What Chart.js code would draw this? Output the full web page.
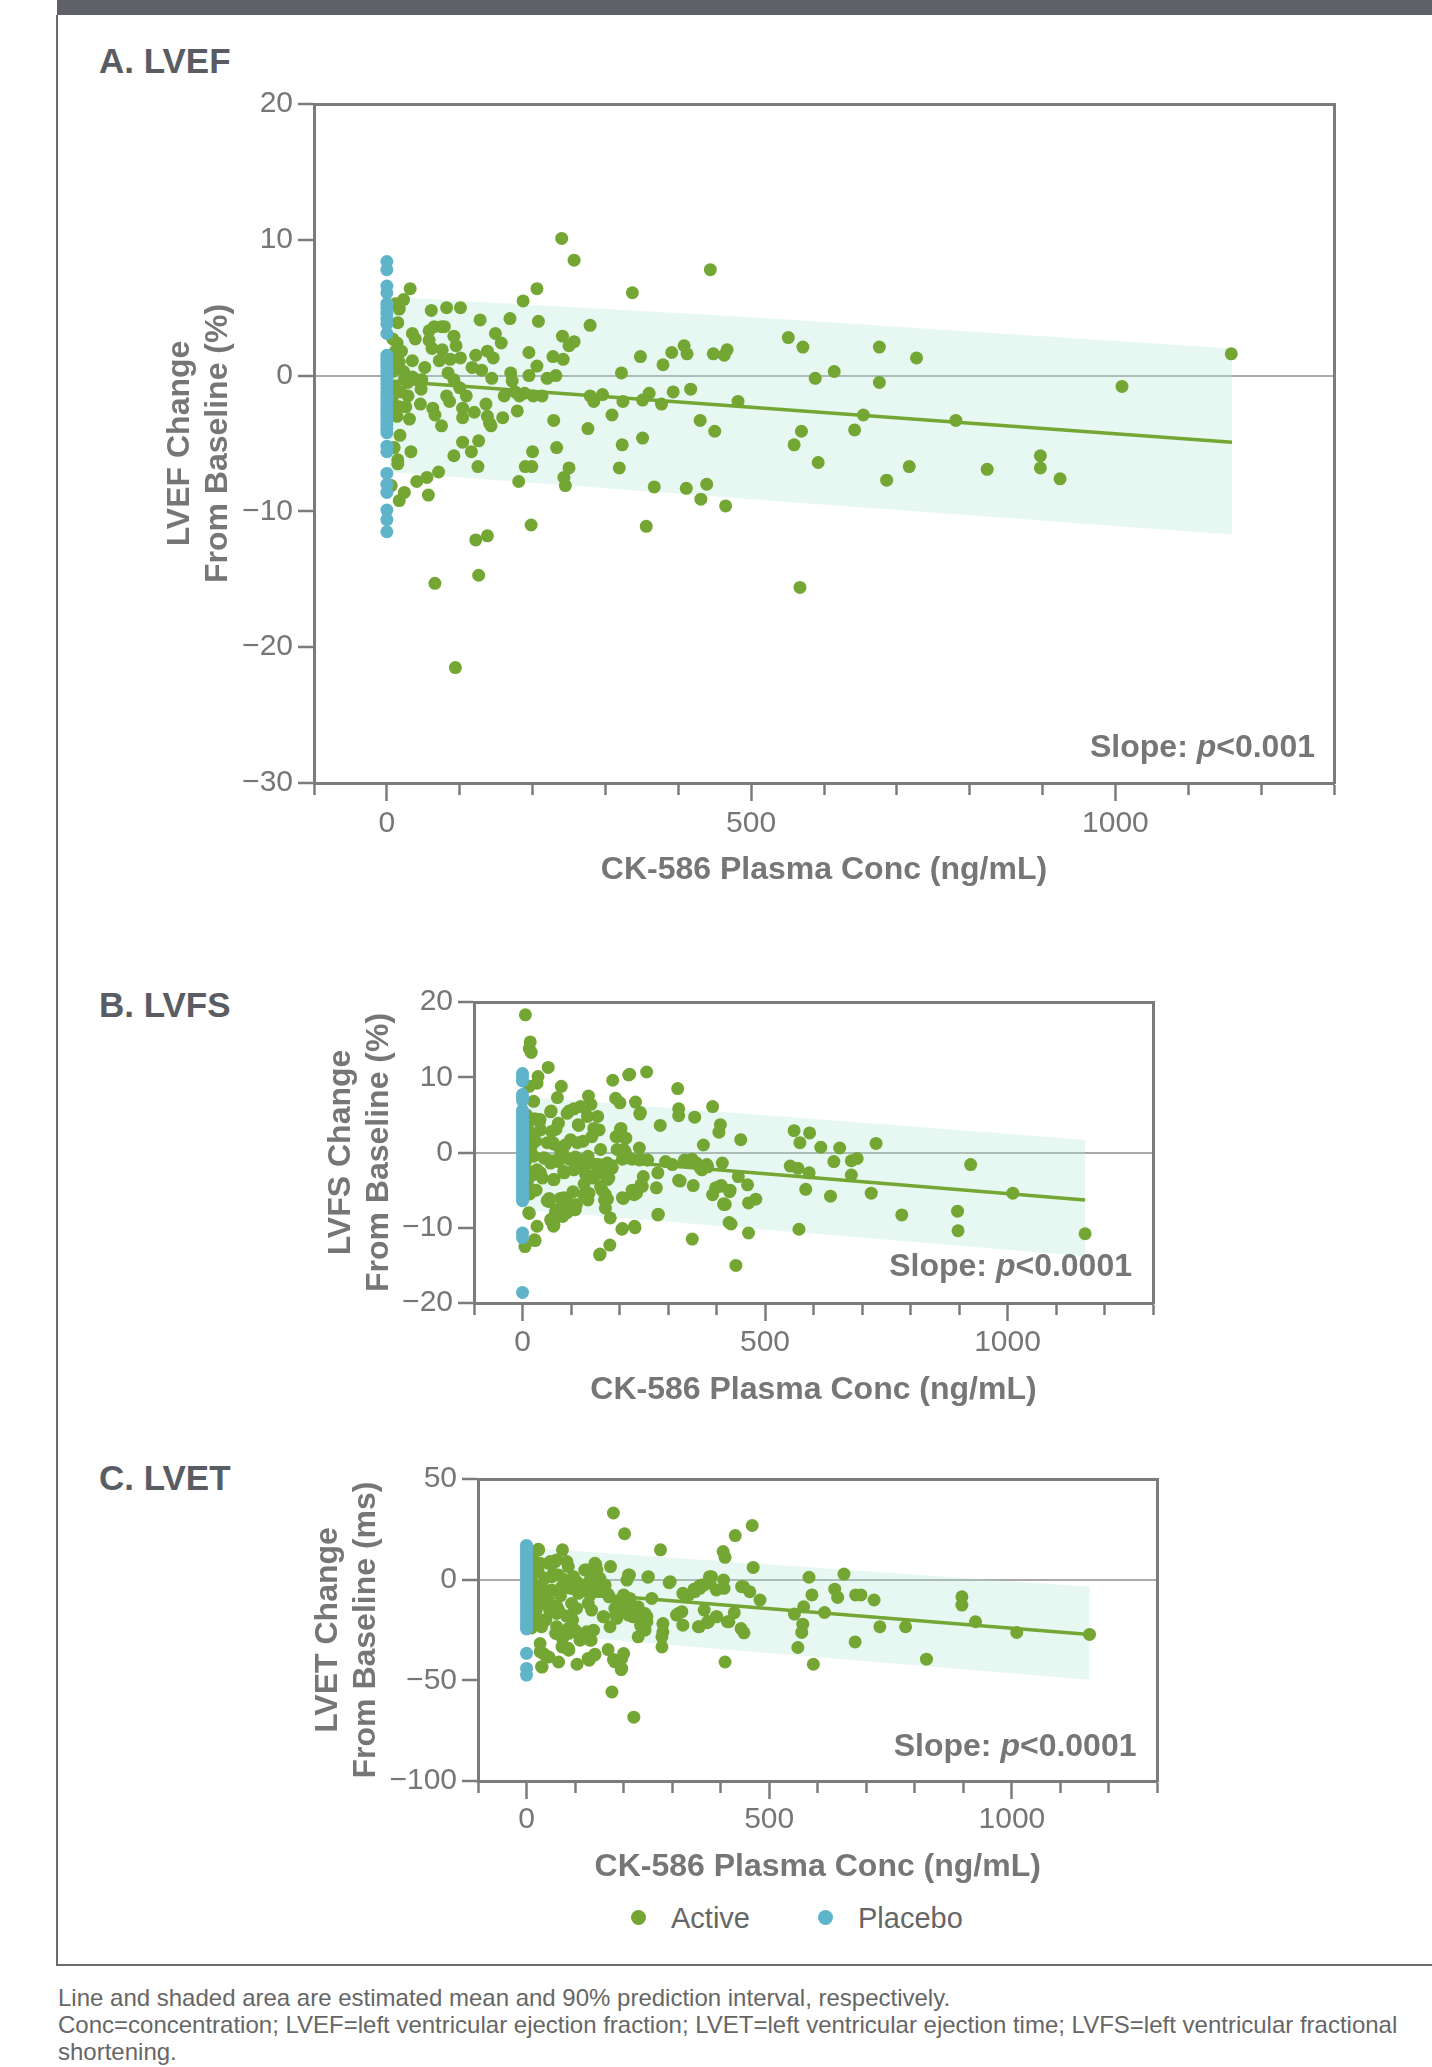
<!DOCTYPE html>
<html>
<head>
<meta charset="utf-8">
<title>CK-586 plasma concentration vs echo change from baseline</title>
<script src="https://cdn.jsdelivr.net/npm/chart.js@4.4.1/dist/chart.umd.min.js"></script>
<style>
  html, body { margin: 0; padding: 0; background: #fff; }
  body { width: 1432px; height: 2067px; position: relative; overflow: hidden;
         font-family: "Liberation Sans", Arial, sans-serif; }
  .banner { position: absolute; left: 57px; top: 0; width: 1375px; height: 15px; background: #5f6168; }
  .frame { position: absolute; left: 56px; top: 15px; width: 1376px; height: 1951px; box-sizing: border-box;
           border-left: 2px solid #6b6d73; border-bottom: 2px solid #6b6d73; }
  .panel-label { position: absolute; left: 99px; font-size: 35px; line-height: 40px; font-weight: bold; color: #595c63; }
  canvas { position: absolute; left: 0; }
  .legend-dot { position: absolute; width: 15px; height: 15px; border-radius: 50%; }
  .legend-text { position: absolute; font-size: 29px; line-height: 36px; color: #666; }
  .footnote { position: absolute; left: 58px; top: 1984px; font-size: 24px; line-height: 27px; color: #666; white-space: nowrap; }
</style>
</head>
<body>
<div class="banner"></div>
<div class="frame"></div>

<div class="panel-label" style="top:41px">A. LVEF</div>
<div class="panel-label" style="top:985px">B. LVFS</div>
<div class="panel-label" style="top:1458px">C. LVET</div>

<canvas id="lvefChart" width="1432" height="860" style="top:60px"></canvas>
<canvas id="lvfsChart" width="1432" height="470" style="top:960px"></canvas>
<canvas id="lvetChart" width="1432" height="460" style="top:1440px"></canvas>

<div class="legend-dot" style="left:631px; top:1910px; background:#74a633"></div>
<div class="legend-text" style="left:671px; top:1900px">Active</div>
<div class="legend-dot" style="left:818px; top:1910px; background:#5fb4c9"></div>
<div class="legend-text" style="left:858px; top:1900px">Placebo</div>

<div class="footnote">Line and shaded area are estimated mean and 90% prediction interval, respectively.<br>Conc=concentration; LVEF=left ventricular ejection fraction; LVET=left ventricular ejection time; LVFS=left ventricular fractional<br>shortening.</div>

<script>
// ---- shared axis values ----
const concTicks = [-100, 0, 100, 200, 300, 400, 500, 600, 700, 800, 900, 1000, 1100, 1200, 1300];
const concLabelled = [0, 500, 1000];
const lvefTicks = [-30, -20, -10, 0, 10, 20];
const lvfsTicks = [-20, -10, 0, 10, 20];
const lvetTicks = [-100, -50, 0, 50];

// ---- A. LVEF (% change) ----
const lvefActive = [
  [240,10.1],[257,8.5],[444,7.8],[32,6.4],[206,6.4],[337,6.1],[23,5.6],[17,4.9],[12,5.3],[187,5.5],
  [61,4.8],[82,5.0],[101,5.0],[128,4.1],[169,4.2],[208,4.0],[279,3.7],[15,3.9],[35,3.1],[39,2.7],
  [58,3.3],[65,3.6],[75,3.6],[79,3.6],[58,2.6],[62,2.0],[76,1.9],[92,2.9],[95,2.2],[149,3.1],
  [157,2.4],[241,2.9],[250,2.2],[257,2.5],[122,1.5],[138,1.8],[146,1.3],[195,1.7],[228,1.4],[242,1.2],
  [348,1.4],[379,0.8],[391,1.7],[412,1.6],[408,2.2],[448,1.6],[463,1.5],[467,1.9],[322,0.2],[72,1.1],
  [87,1.2],[101,1.3],[52,0.6],[35,1.1],[117,0.6],[130,0.4],[144,-0.2],[170,0.2],[172,-0.4],[195,0.0],
  [206,0.7],[220,-0.2],[232,0.0],[84,0.2],[92,-0.3],[47,-1.0],[29,-0.5],[100,-0.9],[109,-1.5],[161,-1.5],
  [176,-1.2],[182,-1.5],[189,-1.3],[201,-1.5],[213,-1.5],[279,-1.5],[284,-1.9],[296,-1.4],[324,-1.9],[351,-1.8],
  [360,-1.3],[377,-2.1],[393,-1.2],[417,-1.0],[482,-1.9],[82,-1.5],[86,-1.9],[29,-1.5],[26,-2.3],[17,-2.3],
  [10,-2.2],[46,-2.1],[63,-2.4],[66,-2.9],[104,-2.4],[104,-3.1],[120,-2.7],[136,-2.1],[138,-3.0],[141,-3.5],
  [143,-3.7],[159,-3.1],[179,-2.6],[229,-3.3],[309,-2.9],[430,-3.3],[450,-4.1],[276,-3.9],[75,-3.7],[31,-3.2],
  [18,-4.4],[351,-4.6],[104,-4.9],[126,-4.8],[116,-5.6],[200,-5.6],[233,-5.3],[323,-5.1],[10,-5.3],[15,-6.2],
  [15,-6.5],[33,-5.6],[92,-5.9],[125,-6.7],[190,-6.7],[199,-6.7],[250,-6.8],[319,-6.8],[71,-7.1],[41,-7.8],
  [55,-7.5],[181,-7.8],[243,-7.5],[245,-8.1],[367,-8.2],[411,-8.3],[439,-8.0],[24,-8.6],[17,-9.2],[57,-8.8],
  [6,-8.1],[431,-9.1],[465,-9.6],[198,-11.0],[356,-11.1],[122,-12.1],[138,-11.8],[126,-14.7],[66,-15.3],[94,-21.5],
  [567,-15.6],[551,2.8],[571,2.1],[676,2.1],[727,1.3],[1159,1.6],[588,-0.2],[614,0.3],[676,-0.5],[1009,-0.8],
  [654,-2.9],[781,-3.3],[569,-4.1],[559,-5.1],[642,-4.0],[592,-6.4],[897,-5.9],[897,-6.8],[717,-6.7],[686,-7.7],
  [824,-6.9],[924,-7.6],[9,0.9],[15,0.7],[23,0.3],[26,-0.1],[35,-0.1],[41,-0.3],[48,-0.3],[20,1.8],
  [14,2.4],[17,1.0],[8,2.7],[12,1.8],[8,0.3],[24,-0.3],[11,-0.9],[19,-1.2],[7,-1.7],[14,-3.0]
];
const lvefPlacebo = [
  8.4, 7.8, 6.6, 6.1, 5.3, 5.0, 4.6, 4.2, 3.8, 3.1, 1.5, 1.2, 0.9, 0.6, 0.3, 0.0, -0.3, -0.6, -0.9, -1.2,
  -1.5, -1.8, -2.1, -2.4, -2.7, -3.0, -3.3, -3.6, -3.9, -4.2, -5.2, -5.6, -7.2, -8.0, -8.6, -9.9, -10.6, -11.5
];
const lvefFitX = [5, 1160];
const lvefFitY = [-0.4, -4.9];
const lvefBandX = [3, 500, 1160];
const lvefBandUpper = [5.8, 4.3, 2.0];
const lvefBandLower = [-7.1, -9.1, -11.7];

// ---- B. LVFS (% change) ----
const lvfsActive = [
  [6,18.3],[16,14.7],[14,13.8],[18,13.3],[53,11.3],[32,10.1],[30,9.2],[14,8.8],[80,8.8],[186,9.6],
  [219,10.3],[256,10.7],[320,8.5],[23,6.8],[72,7.3],[136,7.5],[141,6.4],[192,7.2],[201,6.6],[233,6.7],
  [58,5.4],[92,5.2],[106,5.8],[120,6.1],[129,5.9],[242,5.1],[322,5.8],[322,4.9],[355,4.7],[392,6.1],
  [134,4.8],[155,4.8],[35,4.1],[37,3.0],[74,3.9],[69,3.1],[115,3.7],[147,3.2],[143,2.1],[203,3.2],
  [193,2.1],[284,3.6],[408,3.7],[405,2.7],[450,1.7],[373,1.0],[99,1.7],[88,1.0],[63,1.3],[212,1.9],
  [212,0.1],[241,0.6],[161,0.4],[18,0.8],[23,-0.5],[46,-0.8],[83,-0.1],[74,-1.2],[124,-1.0],[135,-0.5],
  [175,-1.4],[184,-2.1],[241,-1.0],[258,-1.0],[295,-1.2],[309,-1.6],[334,-1.0],[347,-1.0],[359,-1.4],[370,-2.3],
  [380,-1.6],[412,-1.4],[279,-2.7],[37,-2.7],[41,-3.4],[64,-3.6],[86,-2.7],[106,-2.3],[118,-1.6],[146,-3.4],
  [157,-2.7],[178,-3.4],[249,-3.2],[244,-4.3],[322,-3.7],[352,-4.4],[410,-4.4],[428,-5.0],[445,-3.2],[276,-4.7],
  [226,-5.0],[235,-5.4],[28,-5.0],[55,-6.1],[51,-6.4],[78,-6.1],[92,-6.5],[104,-5.2],[126,-5.6],[135,-6.3],
  [164,-5.0],[169,-6.3],[208,-6.1],[392,-5.6],[418,-6.9],[466,-6.7],[171,-7.4],[14,-8.1],[69,-7.6],[83,-8.5],
  [106,-7.6],[111,-6.9],[60,-9.2],[64,-9.8],[181,-8.7],[279,-8.3],[30,-9.8],[205,-10.2],[232,-10.0],[430,-9.5],
  [466,-10.7],[26,-11.7],[5,-12.5],[350,-11.5],[180,-12.3],[159,-13.6],[440,-15.0],
  [560,2.9],[592,2.6],[572,1.3],[615,0.7],[654,0.6],[729,1.2],[552,-1.8],[568,-2.1],[591,-2.7],[642,-1.2],
  [678,-1.1],[690,-0.8],[678,-3.0],[924,-1.6],[464,-4.3],[427,-5.2],[584,-4.9],[635,-5.8],[719,-5.4],[1011,-5.4],
  [415,-6.9],[481,-6.2],[782,-8.3],[897,-7.8],[898,-10.4],[570,-10.2],[1160,-10.8],[407,-4.5],[367,-2.1],[382,-1.9],
  [221,10.4],[243,5.3],[59,5.5],[36,4.4],[60,2.8],[96,5.5],[116,3.6],[158,3.0],[202,3.1],[201,2.2],
  [213,1.9],[27,1.5],[51,1.3],[65,1.1],[78,0.4],[113,1.3],[125,1.5],[195,0.4],[209,0.4],[17,0.0],
  [44,-0.7],[58,-1.4],[78,-0.5],[96,-0.9],[109,-0.6],[123,-1.2],[140,-1.4],[154,-1.6],[185,-2.0],[206,-0.9],
  [226,-0.9],[244,-0.9],[257,-1.0],[333,-1.2],[350,-0.9],[30,-2.3],[65,-3.6],[85,-2.5],[130,-2.9],[144,-3.1],
  [164,-2.7],[175,-3.6],[325,-3.8],[398,-4.7],[127,-4.2],[137,-5.4],[161,-4.5],[171,-5.6],[85,-6.0],[54,-6.5],
  [230,-5.6],[247,-4.5],[206,-6.0],[175,-6.2],[109,-7.6],[92,-8.0],[85,-7.1],[68,-8.0],[13,-8.0],[58,-8.9],
  [65,-9.6],[280,-8.2],[206,-10.1],[231,-9.8],[25,-11.6],[160,-13.5],[415,-6.8],[426,-9.3],
  [8,5.0],[10,3.5],[12,2.0],[8,-1.0],[12,-2.5],[10,-4.0],[15,-5.5],[20,-3.0],[22,2.5],[25,4.5]
];
const lvfsPlacebo = [
  10.5, 10.0, 9.5, 7.7, 7.3, 6.9, 5.6, 5.2, 4.8, 4.4, 4.0, 3.6, 3.2, 2.8, 2.4, 2.0, 1.6, 1.2, 0.8, 0.4,
  0.0, -0.4, -0.8, -1.2, -1.6, -2.0, -2.4, -2.8, -3.2, -3.6, -4.0, -4.4, -4.8, -5.2, -5.6, -6.0, -6.4,
  -10.7, -11.3, -18.6
];
const lvfsFitX = [5, 1160];
const lvfsFitY = [-0.2, -6.3];
const lvfsBandX = [3, 1160];
const lvfsBandUpper = [7.4, 1.7];
const lvfsBandLower = [-7.6, -13.8];

// ---- C. LVET (ms change) ----
const lvetActive = [
  [179,33.1],[202,22.8],[276,14.8],[405,14.0],[409,11.1],[430,21.9],[465,26.9],[25,14.8],[74,14.8],[467,6.1],
  [173,6.5],[124,4.8],[143,7.3],[49,9.0],[62,9.8],[83,9.0],[212,2.3],[207,-0.2],[251,1.5],[294,-1.5],
  [377,1.5],[406,-0.2],[322,-6.8],[334,-7.6],[345,-4.8],[356,-3.2],[365,-2.7],[391,-5.1],[443,-3.5],[460,-6.0],
  [166,-6.8],[170,-8.5],[193,-10.1],[202,-12.6],[258,-9.3],[230,-13.5],[244,-16.8],[159,-18.4],[184,-16.8],[219,-18.4],
  [313,-16.8],[322,-22.6],[366,-15.1],[391,-18.4],[374,-20.9],[356,-23.4],[417,-20.9],[442,-24.3],[448,-26.4],[63,-13.5],
  [62,-16.8],[99,-14.3],[41,-8.5],[18,-8.5],[235,-22.6],[244,-25.1],[281,-21.8],[281,-25.9],[279,-28.4],[279,-33.4],
  [230,-28.4],[60,-26.7],[74,-29.2],[87,-26.7],[101,-25.9],[115,-27.6],[110,-30.1],[124,-26.7],[133,-30.1],[138,-25.1],
  [28,-31.7],[35,-36.7],[74,-33.4],[87,-35.0],[46,-38.4],[66,-40.9],[104,-42.0],[32,-43.4],[129,-40.0],[140,-37.5],
  [168,-34.7],[179,-39.7],[189,-40.9],[200,-36.7],[195,-44.7],[409,-40.9],[176,-55.8],[221,-68.3],
  [582,1.2],[654,2.8],[379,1.2],[447,-3.5],[481,-10.1],[635,-4.7],[641,-8.8],[588,-7.6],[678,-7.6],[689,-7.6],
  [716,-10.1],[897,-8.5],[897,-12.6],[571,-13.5],[614,-16.3],[552,-17.1],[428,-16.4],[372,-21.4],[569,-22.1],[567,-26.2],
  [728,-23.4],[781,-23.4],[925,-20.9],[1010,-26.2],[1160,-27.2],[677,-30.9],[559,-33.7],[824,-39.5],[591,-42.0],
  [24,15.1],[45,8.1],[59,8.9],[86,6.5],[141,8.1],[145,4.8],[120,4.8],[210,2.3],[250,1.2],[296,-1.0],
  [381,1.5],[378,-1.8],[28,8.1],[24,4.0],[38,0.7],[52,1.5],[66,2.3],[80,-0.1],[97,1.5],[103,-1.0],
  [114,-2.6],[131,-0.1],[141,-1.8],[151,0.7],[162,-2.6],[31,-3.5],[42,-5.9],[52,-5.1],[73,-3.5],[93,-4.3],
  [107,-6.8],[124,-4.3],[131,-7.6],[145,-5.9],[155,-5.9],[169,-7.6],[200,-7.6],[203,-10.1],[213,-9.3],[323,-7.1],
  [347,-5.9],[357,-4.3],[361,-2.6],[45,-10.1],[59,-13.4],[66,-15.1],[93,-11.8],[103,-14.3],[127,-11.8],[134,-15.1],
  [182,-14.3],[189,-12.6],[196,-15.1],[210,-13.4],[237,-16.7],[248,-18.4],[158,-18.4],[172,-23.4],[186,-19.2],[210,-17.6],
  [248,-20.9],[237,-23.4],[309,-17.6],[320,-15.9],[354,-23.4],[375,-20.9],[392,-18.4],[414,-20.9],[407,-4.3],[31,-20.1],
  [31,-23.4],[62,-23.4],[66,-25.9],[86,-24.2],[100,-25.0],[114,-27.5],[124,-25.9],[117,-29.2],[131,-30.0],[73,-33.3],
  [86,-34.1],[28,-35.8],[42,-38.3],[31,-43.2],[127,-39.1],[141,-37.0],[182,-40.8],[196,-39.1],[196,-44.1],
  [18,9.0],[14,4.8],[18,-3.5],[18,-10.1],[14,-16.7],[14,-21.8],[24,-9.3],[21,-14.3],
  [10,12.0],[12,-1.0],[16,-6.0],[20,-18.0],[10,-24.0],[35,-12.0],[40,-20.0],[48,-16.0],[55,3.0],[70,-8.0],
  [82,-18.0],[95,-20.0]
];
const lvetPlacebo = [
  17.0, 15.5, 14.0, 12.5, 11.0, 9.5, 8.0, 6.5, 5.0, 3.5, 2.0, 0.5, -1.0, -2.5, -4.0, -5.5, -7.0, -8.5, -10.0,
  -11.5, -13.0, -14.5, -16.0, -17.5, -19.0, -20.5, -22.0, -23.5, -24.5, -36.6, -44.1, -47.4
];
const lvetFitX = [5, 1160];
const lvetFitY = [-4.8, -27.2];
const lvetBandX = [3, 1160];
const lvetBandUpper = [15.8, -3.5];
const lvetBandLower = [-26.5, -49.7];

// ---- styling ----
const ACTIVE_COLOR = '#74a633';
const PLACEBO_COLOR = '#5fb4c9';
const BAND_COLOR = 'rgba(175, 228, 208, 0.3)';
const AXIS_GRAY = '#7b7b7b';
const TEXT_GRAY = '#767676';
const FONT = '"Liberation Sans", Arial, sans-serif';

const toPoints = (xs, ys) => xs.map((x, i) => ({ x: x, y: ys[i] }));
const minusSign = v => (v < 0 ? '\u2212' + Math.abs(v) : String(v));

// draws the "Slope: p<..." note in the lower right of the plot area
const slopeLabel = {
  id: 'slopeLabel',
  afterDatasetsDraw(chart, args, opts) {
    const { ctx, chartArea } = chart;
    const parts = [
      ['Slope: ', `bold 32px ${FONT}`],
      ['p', `italic bold 32px ${FONT}`],
      [opts.text, `bold 32px ${FONT}`]
    ];
    ctx.save();
    ctx.fillStyle = TEXT_GRAY;
    ctx.textBaseline = 'middle';
    ctx.textAlign = 'left';
    let total = 0;
    parts.forEach(p => { ctx.font = p[1]; total += ctx.measureText(p[0]).width; });
    let x = chartArea.right - opts.right - total;
    const y = chartArea.bottom - opts.bottom;
    parts.forEach(p => {
      ctx.font = p[1];
      ctx.fillText(p[0], x, y);
      x += ctx.measureText(p[0]).width;
    });
    ctx.restore();
  }
};

/**
 * Build one panel: placebo + active scatter, mean line and prediction band
 */
function createPanel(canvasId, cfg) {
  const ctx = document.getElementById(canvasId).getContext('2d');

  new Chart(ctx, {
    type: 'scatter',
    data: {
      datasets: [
        {
          label: 'Placebo',
          data: cfg.placebo.map(y => ({ x: 0, y: y })),
          backgroundColor: PLACEBO_COLOR,
          borderColor: PLACEBO_COLOR,
          pointRadius: 6.5,
          pointBorderWidth: 0,
          order: 0
        },
        {
          label: 'Active',
          data: cfg.active.map(p => ({ x: p[0], y: p[1] })),
          backgroundColor: ACTIVE_COLOR,
          borderColor: ACTIVE_COLOR,
          pointRadius: 6.5,
          pointBorderWidth: 0,
          order: 1
        },
        {
          type: 'line',
          label: 'Estimated mean',
          data: toPoints(cfg.fitX, cfg.fitY),
          borderColor: ACTIVE_COLOR,
          borderWidth: 3.5,
          pointRadius: 0,
          fill: false,
          order: 2
        },
        {
          type: 'line',
          label: '90% PI upper',
          data: toPoints(cfg.bandX, cfg.bandUpper),
          borderColor: 'rgba(0,0,0,0)',
          borderWidth: 0,
          backgroundColor: BAND_COLOR,
          pointRadius: 0,
          fill: '+1',
          order: 3
        },
        {
          type: 'line',
          label: '90% PI lower',
          data: toPoints(cfg.bandX, cfg.bandLower),
          borderColor: 'rgba(0,0,0,0)',
          borderWidth: 0,
          pointRadius: 0,
          fill: false,
          order: 4
        }
      ]
    },
    options: {
      responsive: false,
      animation: false,
      devicePixelRatio: 1,
      events: [],
      layout: { padding: cfg.padding },
      plugins: {
        legend: { display: false },
        tooltip: { enabled: false },
        slopeLabel: { text: cfg.slope, right: cfg.slopeRight, bottom: cfg.slopeBottom }
      },
      scales: {
        x: {
          type: 'linear',
          position: 'bottom',
          min: -100,
          max: 1300,
          afterBuildTicks: s => { s.ticks = concTicks.map(v => ({ value: v })); },
          afterFit: s => { s.height = cfg.xHeight; },
          ticks: {
            autoSkip: false,
            maxRotation: 0,
            padding: cfg.xPad,
            color: TEXT_GRAY,
            font: { family: FONT, size: 30 },
            callback: v => (concLabelled.includes(v) ? String(v) : '')
          },
          grid: {
            drawOnChartArea: false,
            tickLength: 18,
            tickWidth: 2.5,
            tickColor: AXIS_GRAY,
            tickBorderDash: c => (c.tick && concLabelled.includes(c.tick.value) ? [] : [10, 40])
          },
          border: { display: true, color: AXIS_GRAY, width: 3 },
          title: {
            display: true,
            text: 'CK-586 Plasma Conc (ng/mL)',
            color: TEXT_GRAY,
            padding: 0,
            font: { family: FONT, size: 32, weight: 'bold', lineHeight: 1.1875 }
          }
        },
        y: {
          type: 'linear',
          position: 'left',
          min: cfg.yTicks[0],
          max: cfg.yTicks[cfg.yTicks.length - 1],
          afterBuildTicks: s => { s.ticks = cfg.yTicks.map(v => ({ value: v })); },
          afterFit: s => { s.width = cfg.yWidth; },
          ticks: {
            padding: 5,
            color: TEXT_GRAY,
            font: { family: FONT, size: 30 },
            callback: v => minusSign(v)
          },
          grid: {
            color: c => (c.tick && c.tick.value === 0 ? '#a9a9a9' : 'rgba(0,0,0,0)'),
            lineWidth: 2,
            tickLength: 16,
            tickWidth: 2.5,
            tickColor: AXIS_GRAY
          },
          border: { display: true, color: AXIS_GRAY, width: 3 },
          title: {
            display: true,
            text: cfg.yTitle,
            color: TEXT_GRAY,
            padding: 0,
            font: { family: FONT, size: 32, weight: 'bold', lineHeight: 1.1875 }
          }
        },
        // top and right edges of the box
        xTop: {
          type: 'linear',
          position: 'top',
          display: true,
          min: -100,
          max: 1300,
          afterFit: s => { s.height = 0; },
          ticks: { display: false },
          grid: { display: false },
          border: { display: true, color: AXIS_GRAY, width: 3 }
        },
        yRight: {
          type: 'linear',
          position: 'right',
          display: true,
          min: cfg.yTicks[0],
          max: cfg.yTicks[cfg.yTicks.length - 1],
          afterFit: s => { s.width = 0; },
          ticks: { display: false },
          grid: { display: false },
          border: { display: true, color: AXIS_GRAY, width: 3 }
        }
      }
    },
    plugins: [slopeLabel]
  });
}

createPanel('lvefChart', {
  active: lvefActive, placebo: lvefPlacebo,
  fitX: lvefFitX, fitY: lvefFitY,
  bandX: lvefBandX, bandUpper: lvefBandUpper, bandLower: lvefBandLower,
  yTicks: lvefTicks, yTitle: ['LVEF Change', 'From Baseline (%)'],
  slope: '<0.001', slopeRight: 19, slopeBottom: 35,
  padding: { left: 161.5, right: 98, top: 44, bottom: 31 },
  yWidth: 152.5, xHeight: 106, xPad: 5
});

createPanel('lvfsChart', {
  active: lvfsActive, placebo: lvfsPlacebo,
  fitX: lvfsFitX, fitY: lvfsFitY,
  bandX: lvfsBandX, bandUpper: lvfsBandUpper, bandLower: lvfsBandLower,
  yTicks: lvfsTicks, yTitle: ['LVFS Change', 'From Baseline (%)'],
  slope: '<0.0001', slopeRight: 21, slopeBottom: 36,
  padding: { left: 322, right: 279, top: 42, bottom: 21 },
  yWidth: 152, xHeight: 106, xPad: 4
});

createPanel('lvetChart', {
  active: lvetActive, placebo: lvetPlacebo,
  fitX: lvetFitX, fitY: lvetFitY,
  bandX: lvetBandX, bandUpper: lvetBandUpper, bandLower: lvetBandLower,
  yTicks: lvetTicks, yTitle: ['LVET Change', 'From Baseline (ms)'],
  slope: '<0.0001', slopeRight: 21, slopeBottom: 34,
  padding: { left: 309, right: 274.5, top: 39, bottom: 14 },
  yWidth: 169, xHeight: 105, xPad: 3
});
</script>
</body>
</html>
